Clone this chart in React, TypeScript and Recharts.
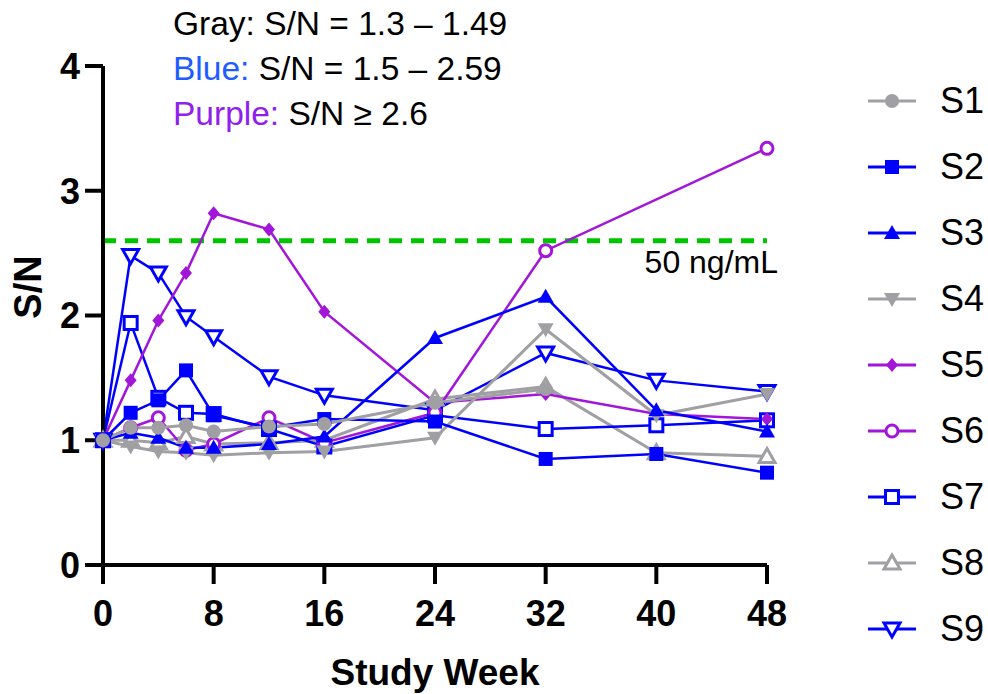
import React from 'react';
import { LineChart, Line, XAxis, YAxis, ReferenceLine } from 'recharts';

const weeks = [0, 2, 4, 6, 8, 12, 16, 24, 32, 40, 48];

const s1 = [1.0, 1.1, 1.1, 1.12, 1.07, 1.11, 1.13, 1.3, 1.41, null, null];
const s2 = [1.0, 1.22, 1.32, 1.56, 1.2, 1.1, 1.17, 1.15, 0.85, 0.89, 0.74];
const s3 = [1.0, 1.06, 1.02, 0.94, 0.94, 0.97, 1.03, 1.82, 2.15, 1.24, 1.07];
const s4 = [1.0, 0.95, 0.91, 0.9, 0.88, 0.9, 0.91, 1.02, 1.89, 1.2, 1.37];
const s5 = [1.0, 1.48, 1.96, 2.34, 2.82, 2.69, 2.03, 1.3, 1.37, 1.21, 1.17];
const s6 = [1.0, 1.1, 1.18, 0.92, 0.97, 1.18, 0.98, 1.22, 2.52, null, 3.34];
const s7 = [1.0, 1.94, 1.34, 1.22, 1.21, 1.09, 0.95, 1.2, 1.09, 1.12, 1.16];
const s8 = [1.0, 1.0, 0.98, 1.03, 0.97, 0.98, 1.0, 1.33, 1.43, 0.9, 0.87];
const s9 = [1.0, 2.48, 2.34, 1.99, 1.83, 1.51, 1.36, 1.24, 1.7, 1.48, 1.39];

const xTicks = [0, 8, 16, 24, 32, 40, 48];
const yTicks = [0, 1, 2, 3, 4];
const cutoff = 2.6;

const GRAY = '#a0a0a4';
const BLUE = '#0000ff';
const PURPLE = '#a216da';
const GREEN = '#00c400';

const series = [
  { key: 'S1', values: s1, color: GRAY, shape: 'circle' },
  { key: 'S2', values: s2, color: BLUE, shape: 'square' },
  { key: 'S3', values: s3, color: BLUE, shape: 'triangle' },
  { key: 'S4', values: s4, color: GRAY, shape: 'triangleDown' },
  { key: 'S5', values: s5, color: PURPLE, shape: 'diamond' },
  { key: 'S6', values: s6, color: PURPLE, shape: 'circleOpen' },
  { key: 'S7', values: s7, color: BLUE, shape: 'squareOpen' },
  { key: 'S8', values: s8, color: GRAY, shape: 'triangleOpen' },
  { key: 'S9', values: s9, color: BLUE, shape: 'triangleDownOpen' },
];

const data = weeks.map((w, i) => {
  const row: any = { week: w };
  series.forEach((s) => (row[s.key] = s.values[i]));
  return row;
});

const FONT = '"Liberation Sans", Arial, sans-serif';

const Marker = ({ shape, x, y, color }: any) => {
  switch (shape) {
    case 'circle':
      return <circle cx={x} cy={y} r={7} fill={color} />;
    case 'square':
      return <rect x={x - 7} y={y - 7} width={14} height={14} fill={color} />;
    case 'triangle':
      return <polygon points={`${x},${y - 8} ${x + 8},${y + 6} ${x - 8},${y + 6}`} fill={color} />;
    case 'triangleDown':
      return <polygon points={`${x},${y + 8} ${x + 8},${y - 6} ${x - 8},${y - 6}`} fill={color} />;
    case 'diamond':
      return <polygon points={`${x},${y - 7} ${x + 6},${y} ${x},${y + 7} ${x - 6},${y}`} fill={color} />;
    case 'circleOpen':
      return <circle cx={x} cy={y} r={6} fill="#fff" stroke={color} strokeWidth={3} />;
    case 'squareOpen':
      return <rect x={x - 6.5} y={y - 6.5} width={13} height={13} fill="#fff" stroke={color} strokeWidth={3} />;
    case 'triangleOpen':
      return <polygon points={`${x},${y - 8} ${x + 8},${y + 6} ${x - 8},${y + 6}`} fill="#fff" stroke={color} strokeWidth={3} />;
    case 'triangleDownOpen':
      return <polygon points={`${x},${y + 8} ${x + 8},${y - 6} ${x - 8},${y - 6}`} fill="#fff" stroke={color} strokeWidth={3} />;
    default:
      return null;
  }
};

const makeDot = (shape: string, color: string) => (props: any) => {
  const { cx, cy, index } = props;
  if (cx == null || cy == null || props.value == null) return <g key={`e-${index}`} />;
  return (
    <g key={`d-${index}`}>
      <Marker shape={shape} x={cx} y={cy} color={color} />
    </g>
  );
};

const CutoffLabel = ({ viewBox }: any) => {
  const { x, y, width } = viewBox;
  return (
    <text x={x + width + 11} y={y + 32} textAnchor="end" fontSize={32} fontFamily={FONT} fill="#000">
      50 ng/mL
    </text>
  );
};

const XTitle = ({ viewBox }: any) => {
  const { x, width } = viewBox;
  return (
    <text x={x + width / 2} y={685} textAnchor="middle" fontSize={37} fontWeight="bold" fontFamily={FONT} fill="#000">
      Study Week
    </text>
  );
};

const YTitle = () => (
  <text
    x={28}
    y={287}
    transform="rotate(-90, 28, 287)"
    textAnchor="middle"
    dominantBaseline="central"
    fontSize={38}
    fontWeight="bold"
    fontFamily={FONT}
    fill="#000"
  >
    S/N
  </text>
);

const tickStyle = { fill: '#000', fontSize: 36, fontWeight: 'bold', fontFamily: FONT };

const App = () => {
  return (
    <div style={{ position: 'absolute', left: 0, top: 0, width: 988, height: 694, background: '#fff' }}>
      <LineChart width={988} height={694} data={data} margin={{ top: 66, right: 221, bottom: 0, left: 0 }}>
        <XAxis
          dataKey="week"
          type="number"
          domain={[0, 48]}
          ticks={xTicks}
          height={129}
          tickSize={19}
          tickMargin={16}
          axisLine={{ stroke: '#000', strokeWidth: 4 }}
          tickLine={{ stroke: '#000', strokeWidth: 4 }}
          tick={tickStyle}
          label={<XTitle />}
        />
        <YAxis
          type="number"
          domain={[0, 4]}
          ticks={yTicks}
          width={103}
          tickSize={18}
          tickMargin={5}
          axisLine={{ stroke: '#000', strokeWidth: 4 }}
          tickLine={{ stroke: '#000', strokeWidth: 4 }}
          tick={tickStyle}
          label={<YTitle />}
        />
        <ReferenceLine
          y={cutoff}
          stroke={GREEN}
          strokeWidth={5}
          strokeDasharray="13 9"
          label={<CutoffLabel />}
        />
        {[...series].reverse().map((s) => (
          <Line
            key={s.key}
            dataKey={s.key}
            stroke={s.color}
            strokeWidth={s.color === GRAY ? 3 : 2.5}
            dot={makeDot(s.shape, s.color)}
            activeDot={false}
            connectNulls={s.key === 'S6'}
            isAnimationActive={false}
          />
        ))}
      </LineChart>

      <div
        style={{
          position: 'absolute',
          left: 173,
          top: 1,
          fontFamily: FONT,
          fontSize: 33.5,
          lineHeight: '45px',
          color: '#000',
          whiteSpace: 'nowrap',
        }}
      >
        <div>Gray: S/N = 1.3 – 1.49</div>
        <div>
          <span style={{ color: '#1f5cff' }}>Blue:</span> S/N = 1.5 – 2.59
        </div>
        <div>
          <span style={{ color: '#9020ee' }}>Purple:</span> S/N ≥ 2.6
        </div>
      </div>

      <div style={{ position: 'absolute', left: 866, top: 68, fontFamily: FONT }}>
        {series.map((s) => (
          <div key={s.key} style={{ height: 66, display: 'flex', alignItems: 'center', width: 122 }}>
            <svg width={52} height={30} style={{ overflow: 'visible' }}>
              <line x1={2} y1={15} x2={50} y2={15} stroke={s.color} strokeWidth={3} />
              <Marker shape={s.shape} x={26} y={15} color={s.color} />
            </svg>
            <span style={{ fontSize: 36, marginLeft: 22, color: '#000' }}>{s.key}</span>
          </div>
        ))}
      </div>
    </div>
  );
};

export default App;
